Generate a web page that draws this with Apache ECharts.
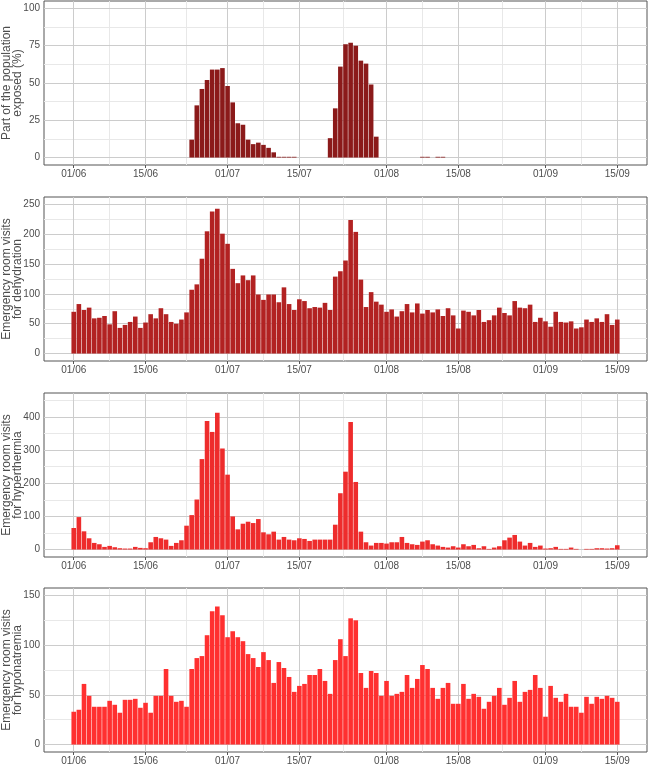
<!DOCTYPE html>
<html>
<head>
<meta charset="utf-8">
<script src="https://cdn.jsdelivr.net/npm/echarts@6/dist/echarts.min.js"></script>
<style>
  html, body { margin: 0; padding: 0; background: #fff; }
  #chart { width: 649px; height: 766px; }
</style>
</head>
<body>
<div id="chart"></div>
<script>
// day index 0 = 01/06, 106 = 15/09
const tickDays = [0, 14, 30, 44, 61, 75, 92, 106]
const tickLabels = ['01/06', '15/06', '01/07', '15/07', '01/08', '15/08', '01/09', '15/09']
const minorDays = [7, 22, 37, 52.5, 68, 83.5, 99]

const exposedTicks = [0, 25, 50, 75, 100]
const dehydrationTicks = [0, 50, 100, 150, 200, 250]
const hyperthermiaTicks = [0, 100, 200, 300, 400]
const hyponatremiaTicks = [0, 50, 100, 150]

const exposed = [
  0, 0, 0, 0, 0, 0, 0, 0, 0, 0,
  0, 0, 0, 0, 0, 0, 0, 0, 0, 0,
  0, 0, 0, 12, 35, 46, 52, 59, 59, 60,
  48, 37, 23, 22, 12, 9, 10, 8.5, 6.5, 3.5,
  0.5, 0.5, 0.5, 0.5, 0, 0, 0, 0, 0, 0,
  13, 33, 61, 76, 77, 75, 65, 63, 49, 14,
  0, 0, 0, 0, 0, 0, 0, 0, 0.5, 0.5,
  0, 0.5, 0.5, 0, 0, 0, 0, 0, 0, 0,
  0, 0, 0, 0, 0, 0, 0, 0, 0, 0,
  0, 0, 0, 0, 0, 0, 0, 0, 0, 0,
  0, 0, 0, 0, 0, 0, 0
]
const dehydration = [
  70, 83, 73, 77, 59, 60, 63, 49, 71, 43,
  48, 53, 62, 43, 52, 66, 59, 76, 66, 53,
  50, 57, 69, 107, 116, 159, 205, 238, 243, 201,
  184, 142, 118, 131, 123, 131, 99, 90, 99, 99,
  86, 111, 83, 73, 91, 88, 76, 78, 77, 85,
  73, 129, 138, 156, 224, 204, 124, 78, 103, 87,
  82, 70, 74, 62, 71, 83, 69, 84, 67, 73,
  69, 74, 63, 76, 64, 42, 72, 70, 64, 73,
  53, 56, 64, 77, 68, 64, 88, 77, 76, 82,
  53, 60, 54, 45, 70, 53, 52, 54, 42, 44,
  57, 53, 59, 53, 66, 48, 57
]
const hyperthermia = [
  65, 98, 55, 34, 20, 16, 8, 11, 7, 4,
  3, 3, 8, 5, 4, 22, 38, 34, 30, 11,
  20, 28, 72, 104, 151, 273, 388, 355, 413, 305,
  226, 100, 61, 78, 84, 80, 92, 52, 46, 54,
  30, 38, 30, 28, 34, 32, 26, 30, 30, 30,
  30, 75, 170, 235, 385, 204, 54, 22, 12, 20,
  20, 18, 22, 22, 38, 20, 16, 14, 24, 28,
  16, 12, 8, 6, 10, 6, 16, 10, 14, 4,
  10, 2, 6, 10, 28, 36, 44, 24, 12, 20,
  8, 12, 3, 4, 8, 2, 2, 6, 2, 0,
  2, 2, 4, 4, 3, 4, 13
]
const hyponatremia = [
  33, 35, 61, 49, 38, 38, 38, 44, 40, 32,
  45, 45, 46, 37, 42, 32, 49, 49, 76, 49,
  43, 44, 38, 76, 87, 89, 110, 134, 139, 130,
  108, 114, 108, 104, 91, 87, 78, 93, 85, 62,
  83, 77, 68, 53, 59, 61, 70, 70, 76, 64,
  51, 85, 106, 89, 127, 125, 72, 57, 74, 72,
  49, 64, 49, 51, 53, 70, 57, 66, 80, 76,
  57, 46, 57, 62, 41, 41, 61, 46, 51, 48,
  36, 43, 49, 57, 40, 47, 64, 43, 53, 55,
  70, 57, 28, 59, 47, 43, 51, 38, 38, 32,
  48, 41, 48, 46, 49, 47, 43
]

const font = "'Liberation Sans', Arial, sans-serif"
const textColor = '#4d4d4d'

const panels = [
  { name: 'Part of the population\nexposed (%)', data: exposed, color: '#8B1A1A',
    top: 1, min: -5, max: 105, ticks: exposedTicks, minor: [12.5, 37.5, 62.5, 87.5] },
  { name: 'Emergency room visits\nfor dehydration', data: dehydration, color: '#B22222',
    top: 197, min: -12.5, max: 262.5, ticks: dehydrationTicks, minor: [25, 75, 125, 175, 225] },
  { name: 'Emergency room visits\nfor hyperthermia', data: hyperthermia, color: '#EE2C2C',
    top: 393, min: -22.5, max: 472.5, ticks: hyperthermiaTicks, minor: [50, 150, 250, 350, 450] },
  { name: 'Emergency room visits\nfor hyponatremia', data: hyponatremia, color: '#FF3030',
    top: 588, min: -7.5, max: 157.5, ticks: hyponatremiaTicks, minor: [25, 75, 125] }
]

function gridLines(p) {
  const major = { color: '#cccccc', width: 1, type: 'solid' }
  const minor = { color: '#e8e8e8', width: 1, type: 'solid' }
  const lines = []
  minorDays.forEach(d => lines.push({ xAxis: d, lineStyle: minor }))
  p.minor.forEach(v => lines.push({ yAxis: v, lineStyle: minor }))
  tickDays.forEach(d => lines.push({ xAxis: d, lineStyle: major }))
  p.ticks.forEach(v => lines.push({ yAxis: v, lineStyle: major }))
  return lines
}

const chart = echarts.init(document.getElementById('chart'))

chart.setOption({
  animation: false,
  backgroundColor: '#fff',
  grid: panels.map(p => ({
    left: 44,
    right: 2,
    top: p.top,
    height: 164,
    outerBoundsMode: 'none',
    containLabel: false,
    show: true,
    borderColor: '#555',
    borderWidth: 1,
    backgroundColor: 'transparent'
  })),
  xAxis: panels.map((p, i) => ({
    type: 'value',
    gridIndex: i,
    min: -5.8,
    max: 111.8,
    axisLine: { show: false, onZero: false },
    splitLine: { show: false },
    axisTick: { show: true, customValues: tickDays, length: 3, lineStyle: { color: '#555' } },
    axisLabel: {
      customValues: tickDays,
      formatter: v => tickLabels[tickDays.indexOf(v)],
      margin: 4,
      fontSize: 10,
      color: textColor,
      fontFamily: font
    }
  })),
  yAxis: panels.map((p, i) => ({
    type: 'value',
    gridIndex: i,
    min: p.min,
    max: p.max,
    name: p.name,
    nameLocation: 'middle',
    nameRotate: 90,
    nameGap: 21,
    nameMoveOverlap: false,
    nameTextStyle: { fontSize: 12, lineHeight: 11, color: textColor, fontFamily: font },
    axisLine: { show: false },
    splitLine: { show: false },
    axisTick: { show: true, customValues: p.ticks, length: 3, lineStyle: { color: '#555' } },
    axisLabel: {
      customValues: p.ticks,
      margin: 4,
      fontSize: 10,
      color: textColor,
      fontFamily: font
    }
  })),
  series: panels.flatMap((p, i) => [
    {
      type: 'line',
      xAxisIndex: i,
      yAxisIndex: i,
      data: [],
      z: 1,
      silent: true,
      markLine: {
        z: 1,
        silent: true,
        symbol: ['none', 'none'],
        label: { show: false },
        emphasis: { disabled: true },
        data: gridLines(p)
      }
    },
    {
      type: 'bar',
      xAxisIndex: i,
      yAxisIndex: i,
      z: 3,
      barWidth: 4.6,
      itemStyle: { color: p.color },
      data: p.data.map((v, d) => [d, v])
    }
  ])
})
</script>
</body>
</html>
